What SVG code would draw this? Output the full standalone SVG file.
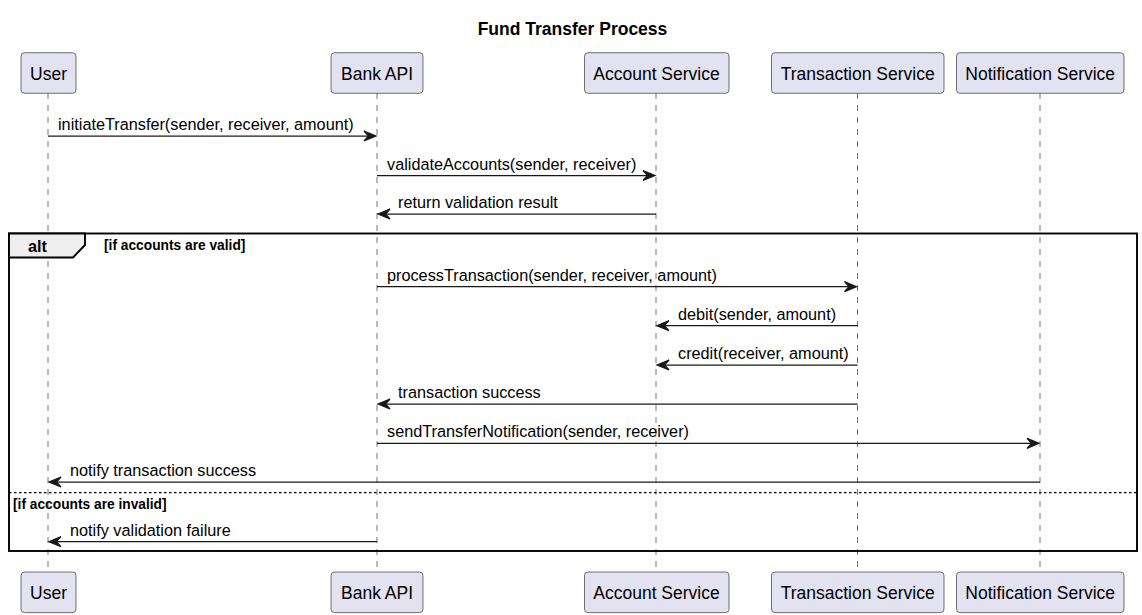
<svg xmlns="http://www.w3.org/2000/svg" width="1142" height="615" viewBox="0 0 1142 615">
<style>
  .box { fill: #E2E2F0; stroke: #181818; stroke-width: 0.6; }
  .pname { font-family: "Liberation Sans", Arial, sans-serif; font-size: 17.5px; fill: #000; text-anchor: middle; }
  .life { stroke: #181818; stroke-width: 0.6; stroke-dasharray: 6,6; fill: none; }
  .msg { stroke: #181818; stroke-width: 1.25; fill: none; }
  .mtext { font-family: "Liberation Sans", Arial, sans-serif; font-size: 16.25px; fill: #000; }
  .head { fill: #181818; stroke: #181818; stroke-width: 1.25; }
  .frame { fill: none; stroke: #000; stroke-width: 1.9; }
  .tab { fill: #EEEEEE; stroke: #000; stroke-width: 1.9; }
  .guard { font-family: "Liberation Sans", Arial, sans-serif; font-size: 13.75px; font-weight: bold; fill: #000; }
</style>
<rect width="1142" height="615" fill="#FFFFFF"/>
<text x="572.5" y="35" font-family="Liberation Sans, Arial, sans-serif" font-size="17.5" font-weight="bold" text-anchor="middle">Fund Transfer Process</text>

<g id="lifelines">
  <line class="life" x1="48" y1="93" x2="48" y2="572"/>
  <line class="life" x1="377" y1="93" x2="377" y2="572"/>
  <line class="life" x1="656" y1="93" x2="656" y2="572"/>
  <line class="life" x1="857.5" y1="93" x2="857.5" y2="572"/>
  <line class="life" x1="1040" y1="93" x2="1040" y2="572"/>
</g>

<g id="alt-frame">
  <rect class="frame" x="9" y="233.5" width="1128" height="317.5"/>
  <polygon class="tab" points="9,233.5 85,233.5 85,245 73,257.5 9,257.5"/>
  <text x="28" y="252" font-family="Liberation Sans, Arial, sans-serif" font-size="16.25" font-weight="bold">alt</text>
  <text class="guard" x="104" y="250">[if accounts are valid]</text>
  <line x1="9" y1="492.7" x2="1137" y2="492.7" stroke="#000" stroke-width="1.25" stroke-dasharray="2.5,2.5"/>
  <text class="guard" x="13" y="508.5">[if accounts are invalid]</text>
</g>

<g id="user-top"><rect class="box" x="21" y="52.7" width="55" height="40.6" rx="3.5"/><text class="pname" x="48.5" y="79.5">User</text></g>
<g id="bank-top"><rect class="box" x="331" y="52.7" width="92" height="40.6" rx="3.5"/><text class="pname" x="377" y="79.5">Bank API</text></g>
<g id="account-top"><rect class="box" x="584.5" y="52.7" width="144.5" height="40.6" rx="3.5"/><text class="pname" x="656.5" y="79.5">Account Service</text></g>
<g id="transaction-top"><rect class="box" x="771.5" y="52.7" width="172.5" height="40.6" rx="3.5"/><text class="pname" x="857.7" y="79.5">Transaction Service</text></g>
<g id="notification-top"><rect class="box" x="956.5" y="52.7" width="167.5" height="40.6" rx="3.5"/><text class="pname" x="1040.2" y="79.5">Notification Service</text></g>

<g id="user-bottom"><rect class="box" x="21" y="572" width="55" height="40.6" rx="3.5"/><text class="pname" x="48.5" y="598.8">User</text></g>
<g id="bank-bottom"><rect class="box" x="331" y="572" width="92" height="40.6" rx="3.5"/><text class="pname" x="377" y="598.8">Bank API</text></g>
<g id="account-bottom"><rect class="box" x="584.5" y="572" width="144.5" height="40.6" rx="3.5"/><text class="pname" x="656.5" y="598.8">Account Service</text></g>
<g id="transaction-bottom"><rect class="box" x="771.5" y="572" width="172.5" height="40.6" rx="3.5"/><text class="pname" x="857.7" y="598.8">Transaction Service</text></g>
<g id="notification-bottom"><rect class="box" x="956.5" y="572" width="167.5" height="40.6" rx="3.5"/><text class="pname" x="1040.2" y="598.8">Notification Service</text></g>

<g id="connectors">
  <!-- 1 -->
  <line class="msg" x1="48" y1="136" x2="374" y2="136"/>
  <polygon class="head" points="364,131 376,136 364,141 368.5,136"/>
  <text class="mtext" x="58" y="130">initiateTransfer(sender, receiver, amount)</text>
  <!-- 2 -->
  <line class="msg" x1="377" y1="175.5" x2="653" y2="175.5"/>
  <polygon class="head" points="643,170.5 655,175.5 643,180.5 647.5,175.5"/>
  <text class="mtext" x="387" y="169.5">validateAccounts(sender, receiver)</text>
  <!-- 3 -->
  <line class="msg" x1="656" y1="214" x2="380" y2="214"/>
  <polygon class="head" points="390,209 378,214 390,219 385.5,214"/>
  <text class="mtext" x="398" y="208">return validation result</text>
  <!-- 4 -->
  <line class="msg" x1="377" y1="286.7" x2="854.5" y2="286.7"/>
  <polygon class="head" points="844.5,281.7 856.5,286.7 844.5,291.7 849,286.7"/>
  <text class="mtext" x="387" y="280.7">processTransaction(sender, receiver, amount)</text>
  <!-- 5 -->
  <line class="msg" x1="857.5" y1="325.7" x2="659" y2="325.7"/>
  <polygon class="head" points="669,320.7 657,325.7 669,330.7 664.5,325.7"/>
  <text class="mtext" x="678" y="319.7">debit(sender, amount)</text>
  <!-- 6 -->
  <line class="msg" x1="857.5" y1="365" x2="659" y2="365"/>
  <polygon class="head" points="669,360 657,365 669,370 664.5,365"/>
  <text class="mtext" x="678" y="359">credit(receiver, amount)</text>
  <!-- 7 -->
  <line class="msg" x1="857.5" y1="404" x2="380" y2="404"/>
  <polygon class="head" points="390,399 378,404 390,409 385.5,404"/>
  <text class="mtext" x="398" y="398">transaction success</text>
  <!-- 8 -->
  <line class="msg" x1="377" y1="443.3" x2="1037" y2="443.3"/>
  <polygon class="head" points="1027,438.3 1039,443.3 1027,448.3 1031.5,443.3"/>
  <text class="mtext" x="387" y="437.3">sendTransferNotification(sender, receiver)</text>
  <!-- 9 -->
  <line class="msg" x1="1040" y1="482" x2="51" y2="482"/>
  <polygon class="head" points="61,477 49,482 61,487 56.5,482"/>
  <text class="mtext" x="70" y="476">notify transaction success</text>
  <!-- 10 -->
  <line class="msg" x1="377" y1="541.7" x2="51" y2="541.7"/>
  <polygon class="head" points="61,536.7 49,541.7 61,546.7 56.5,541.7"/>
  <text class="mtext" x="70" y="535.7">notify validation failure</text>
</g>
</svg>
